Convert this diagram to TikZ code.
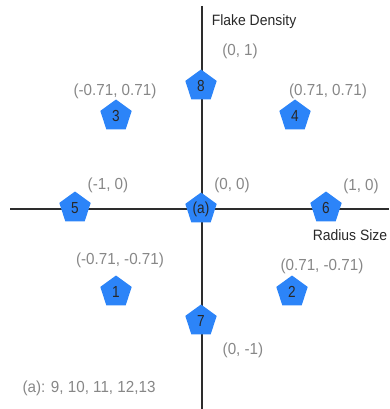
\documentclass[tikz,border=0pt]{standalone}
\usepackage{fontspec}
\setmainfont{Liberation Sans}
\newfontfamily\coordfont[FakeStretch=0.95]{Liberation Sans}
\newfontfamily\axfont[FakeStretch=0.93]{Liberation Sans}
\newfontfamily\numfont[FakeStretch=0.85]{Liberation Sans}
\usetikzlibrary{shapes.geometric}
\definecolor{pentblue}{RGB}{44,132,248}
\definecolor{axisgray}{RGB}{45,45,45}
\definecolor{labgray}{RGB}{135,135,135}
\definecolor{darktxt}{RGB}{40,40,40}
\tikzset{
  pent/.style={regular polygon, regular polygon sides=5, fill=pentblue, draw=none,
    minimum size=33pt, inner sep=0pt, text=darktxt, font=\numfont\fontsize{16}{16}\selectfont},
  coord/.style={text=labgray, font=\coordfont\fontsize{16}{16}\selectfont, inner sep=0pt},
  axlabel/.style={text=darktxt, font=\axfont\fontsize{15}{15}\selectfont, inner sep=0pt},
  axis/.style={draw=axisgray, line width=2pt}
}
\begin{document}
\begin{tikzpicture}[x=1pt,y=-1pt]
\useasboundingbox (0,0) rectangle (389,409);
\coordinate (vtop) at (202,6);
\coordinate (vbot) at (202,409);
\coordinate (hl) at (10,209);
\coordinate (hr) at (389,209);
\draw[axis] (vtop) -- (vbot);
\draw[axis] (hl) -- (hr);
\node[pent] (p8) at (201,86) {8};
\node[pent] (p3) at (116,116) {3};
\node[pent] (p4) at (295,116) {4};
\node[pent] (p5) at (75,208) {5};
\node[pent] (pa) at (201,209) {(a)};
\node[pent] (p6) at (326,208) {6};
\node[pent] (p1) at (116,292) {1};
\node[pent] (p2) at (292,292) {2};
\node[pent] (p7) at (201,321) {7};
\node[axlabel] (fd) at (254,22) {Flake Density};
\node[axlabel] (rs) at (350,235) {Radius Size};
\node[coord] (c01) at (240,51) {(0, 1)};
\node[coord] (cm3) at (115,91) {(-0.71, 0.71)};
\node[coord] (c4) at (328,91) {(0.71, 0.71)};
\node[coord] (c5) at (108,185) {(-1, 0)};
\node[coord] (c00) at (232,185) {(0, 0)};
\node[coord] (c6) at (361,186) {(1, 0)};
\node[coord] (c1) at (120,260) {(-0.71, -0.71)};
\node[coord] (c2) at (322,266) {(0.71, -0.71)};
\node[coord] (c7) at (243,350) {(0, -1)};
\node[coord] (note) at (89,388) {(a): 9, 10, 11, 12,13};
\end{tikzpicture}
\end{document}
